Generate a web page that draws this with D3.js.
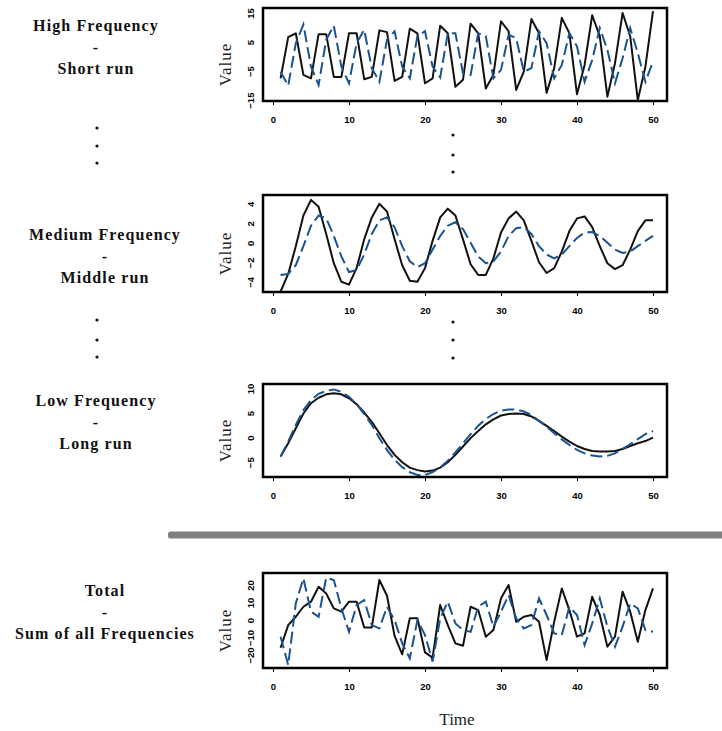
<!DOCTYPE html>
<html>
<head>
<meta charset="utf-8">
<script src="https://d3js.org/d3.v7.min.js"></script>
<style>
  body { margin: 0; background: #fff; }
  .tick text { font-family: "Liberation Sans", Arial, sans-serif; font-weight: bold; font-size: 9.5px; fill: #000; }
</style>
</head>
<body>
<svg id="chart" width="722" height="731"></svg>
<script>

var time = d3.range(1, 51);

// high frequency component (observed / fitted)
var highObs = [-7.5, 6.7, 8, -6.3, -7.5, 7.7, 7.7, -7, -7, 8, 8, -7.8, -7, 9, 8.4, -8.4, -7, 9.6, 8, -9.2,
  -7.5, 10.6, 8, -10.4, -8, 11.3, 8, -11, -6.3, 12.1, 8.7, -11.5, -5.2, 12.9, 8, -12.5, -4, 13.3, 8, -13,
  -2.9, 14.2, 7, -13.8, -2.3, 15, 7, -15, -3.5, 15.6];
var highFit = [-5.2, -10, 4.6, 11, -3.5, -9.8, 5.8, 10.6, -3.5, -9.2, 4.6, 9.2, -4, -8.7, 5.8, 8.7, -3.5, -7.5, 7, 8.7,
  -3.5, -7.2, 8, 8, -5.8, -6.3, 8, 7, -7.5, -4.6, 7.5, 6.3, -5.2, -4, 8.7, 4.6, -7.5, -2.9, 8, 3.5,
  -8.7, -1.2, 9.8, 2.3, -9.2, -0.6, 9.8, 1.2, -8.7, -1.7];

// medium frequency component
var medObs = [-5, -3.2, -0.35, 2.8, 4.4, 3.7, 0.9, -2.1, -4, -4.3, -2.6, 0.35, 2.6, 4, 3.2, 0.35, -2.3, -3.9, -4, -2.6,
  0.2, 2.6, 3.5, 2.8, 0.35, -2.2, -3.3, -3.3, -1.6, 1.05, 2.5, 3.2, 2.3, 0.2, -2, -3.1, -2.6, -0.9, 1.2, 2.5,
  2.7, 1.6, -0.35, -2.1, -2.7, -2.3, -0.7, 1.2, 2.3, 2.3];
var medFit = [-3.3, -3.2, -2.3, -0.35, 1.75, 2.8, 2.5, 0.7, -1.4, -3, -2.8, -1.2, 0.9, 2.3, 2.6, 1.6, -0.35, -1.9, -2.5, -2.1,
  -0.7, 0.7, 1.75, 2.1, 1.4, 0, -1.4, -2.1, -1.9, -0.9, 0.7, 1.5, 1.6, 0.9, -0.35, -1.2, -1.6, -1.2, -0.35, 0.5,
  1.05, 1.1, 0.7, 0, -0.7, -1.05, -0.9, -0.35, 0.2, 0.7];

// low frequency component
var lowObs = [-3.85, -1.15, 1.9, 4.9, 7, 8.1, 8.8, 9, 8.8, 8, 6.8, 5.1, 3.2, 0.9, -1.5, -3.5, -5, -6.1, -6.6, -6.9,
  -6.7, -6.1, -5, -3.5, -1.8, -0.1, 1.35, 2.7, 3.7, 4.5, 4.8, 4.9, 4.8, 4.3, 3.4, 2.4, 1.35, 0.2, -0.8, -1.7,
  -2.3, -2.7, -2.8, -2.8, -2.7, -2.3, -1.7, -1.15, -0.7, 0];
var lowFit = [-3.85, -0.8, 2.6, 5.6, 7.6, 8.9, 9.5, 9.8, 9.3, 8.3, 6.8, 4.8, 2.6, -0.1, -2.5, -4.5, -6, -7, -7.6, -7.6,
  -7, -6.1, -4.7, -3, -1.15, 0.7, 2.4, 3.8, 4.8, 5.5, 5.7, 5.7, 5.3, 4.6, 3.4, 2.2, 0.9, -0.35, -1.5, -2.5,
  -3.2, -3.65, -3.85, -3.7, -3.2, -2.3, -1.35, -0.3, 0.7, 1.35];

// total series
var totObs = [-15.8, -2.9, 1.9, 7.6, 10.5, 19, 15.2, 6.7, 4.8, 10.5, 10.5, -4.2, -4.2, 22.9, 13.9, -9.1, -19.6, 1, 1, -18.5,
  -21.5, 8.6, -2.9, -13.3, -14.7, 7.6, 5.7, -9.5, -5.7, 12.4, 20, -1, 1.9, 2.9, -1, -22.9, -1, 18.1, 5.7, -9.5,
  -7.6, 13.3, 2.9, -15.2, -9.5, 16.2, 4.8, -12.4, 5.7, 18.1];
var totFit = [-9.5, -25.7, 9.5, 23.8, 4.8, 1.9, 24.2, 22.9, 6.7, -6.7, 8.6, 11.4, -2.9, -4.8, 7.6, 0, -13.3, -21.9, 0, -8.6,
  -23.8, 1, 10.5, -1.9, -5.7, -6.7, 7.6, 10.5, -3.8, 4.8, 14.3, 1, -4.8, -2.9, 12.4, 2.9, -7.6, -8.6, 7.6, 2.9,
  -14.3, -1.9, 12.4, -3.8, -15.2, -3.8, 9.5, 6.7, -5.7, -6.7];

var xTicks = [0, 10, 20, 30, 40, 50];

var panels = [
  { obs: highObs, fit: highFit, top: 8, bottom: 101, domain: [-15.3, 16.7], ticks: [-15, -5, 5, 15],
    title: ["High Frequency", "-", "Short run"], tx: 96, ty: 26 },
  { obs: medObs, fit: medFit, top: 195, bottom: 292, domain: [-5.05, 4.9], ticks: [-4, -2, 0, 2, 4],
    title: ["Medium Frequency", "-", "Middle run"], tx: 105, ty: 235 },
  { obs: lowObs, fit: lowFit, top: 384, bottom: 477, domain: [-8, 10.9], ticks: [-5, 0, 5, 10],
    title: ["Low Frequency", "-", "Long run"], tx: 96, ty: 401 },
  { obs: totObs, fit: totFit, top: 573, bottom: 668, domain: [-27.4, 26.9], ticks: [-20, -10, 0, 10, 20],
    title: ["Total", "-", "Sum of all Frequencies"], tx: 105, ty: 591 }
];

var serif = "'Liberation Serif', 'Times New Roman', serif";

var svg = d3.select("#chart");

var x = d3.scaleLinear().domain([0, 50]).range([273, 653]);
var boxLeft = 263, boxRight = 667;

panels.forEach(function(p, i) {
  var y = d3.scaleLinear().domain(p.domain).range([p.bottom, p.top]);
  var g = svg.append("g");

  g.append("clipPath").attr("id", "clip" + i)
    .append("rect")
    .attr("x", boxLeft).attr("y", p.top)
    .attr("width", boxRight - boxLeft).attr("height", p.bottom - p.top);

  var line = d3.line()
    .x(function(d, j) { return x(time[j]); })
    .y(function(d) { return y(d); });

  var lines = g.append("g").attr("clip-path", "url(#clip" + i + ")");
  lines.append("path")
    .datum(p.obs)
    .attr("d", line)
    .attr("fill", "none")
    .attr("stroke", "#111")
    .attr("stroke-width", 2)
    .attr("stroke-linejoin", "round");
  lines.append("path")
    .datum(p.fit)
    .attr("d", line)
    .attr("fill", "none")
    .attr("stroke", "#1b5290")
    .attr("stroke-width", 2)
    .attr("stroke-dasharray", "12,5");

  // frame
  g.append("rect")
    .attr("x", boxLeft).attr("y", p.top)
    .attr("width", boxRight - boxLeft).attr("height", p.bottom - p.top)
    .attr("fill", "none")
    .attr("stroke", "#000")
    .attr("stroke-width", 2.5);

  // y axis, labels turned sideways
  var yAxis = g.append("g")
    .attr("transform", "translate(" + boxLeft + ",0)")
    .call(d3.axisLeft(y).tickValues(p.ticks).tickSize(0).tickFormat(d3.format("d")));
  yAxis.select(".domain").remove();
  yAxis.selectAll("text")
    .attr("x", null).attr("dy", null).attr("y", 0)
    .attr("text-anchor", "middle")
    .attr("transform", "translate(-9,0) rotate(-90)");

  // x axis below the frame
  var xAxis = g.append("g")
    .attr("transform", "translate(0," + (p.bottom + 1) + ")")
    .call(d3.axisBottom(x).tickValues(xTicks).tickSize(3).tickPadding(11));
  xAxis.select(".domain").remove();
  xAxis.selectAll("line").attr("stroke", "#000").attr("stroke-width", 1);

  g.append("text")
    .attr("transform", "translate(231," + ((p.top + p.bottom) / 2 + 10) + ") rotate(-90)")
    .attr("text-anchor", "middle")
    .style("font-family", serif)
    .style("font-size", "17px")
    .attr("letter-spacing", 1)
    .attr("fill", "#222")
    .text("Value");

  // left hand description
  g.selectAll("text.side")
    .data(p.title)
    .enter().append("text")
    .attr("class", "side")
    .attr("x", p.tx)
    .attr("y", function(d, k) { return p.ty + 5 + k * 21.5; })
    .attr("text-anchor", "middle")
    .style("font-family", serif)
    .style("font-weight", "bold")
    .style("font-size", "16px")
    .attr("letter-spacing", 1.1)
    .attr("fill", "#111")
    .text(function(d) { return d; });
});

// ellipsis dots between the component panels
var dotRows = [[128, 146, 163], [320, 340, 357]];
var midRows = [[135, 155, 172], [322, 340, 358]];
dotRows.forEach(function(r) {
  r.forEach(function(cy) {
    svg.append("circle").attr("cx", 97).attr("cy", cy).attr("r", 1.6).attr("fill", "#111");
  });
});
midRows.forEach(function(r) {
  r.forEach(function(cy) {
    svg.append("circle").attr("cx", 453).attr("cy", cy).attr("r", 1.6).attr("fill", "#111");
  });
});

// separator between components and total
svg.append("rect")
  .attr("x", 168).attr("y", 531.5)
  .attr("width", 560).attr("height", 7)
  .attr("rx", 2.5)
  .attr("fill", "#808080");

svg.append("text")
  .attr("x", 457).attr("y", 725)
  .attr("text-anchor", "middle")
  .style("font-family", serif)
  .style("font-size", "17px")
  .attr("fill", "#222")
  .text("Time");

</script>
</body>
</html>
